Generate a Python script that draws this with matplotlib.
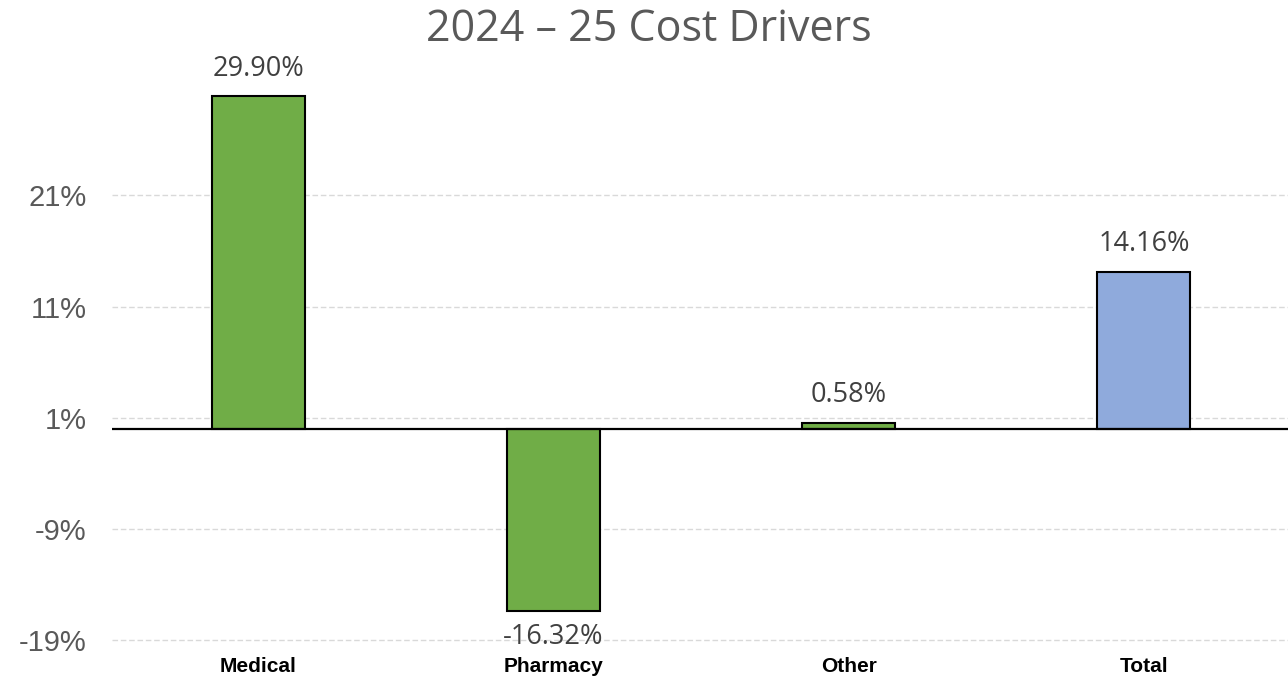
import matplotlib
matplotlib.use("Agg")
import matplotlib.pyplot as plt
from matplotlib.ticker import FixedLocator, FuncFormatter

categories = ["Medical", "Pharmacy", "Other", "Total"]
values = [29.90, -16.32, 0.58, 14.16]
bar_colors = ["#70AD47", "#70AD47", "#70AD47", "#8FAADC"]
yticks = [-19, -9, 1, 11, 21]
title = "2024 \u2013 25 Cost Drivers"

fig = plt.figure(figsize=(12.88, 6.78), dpi=100)
ax = fig.add_axes([112/1288, 1 - 650/678, 1 - 112/1288, (650 - 60)/678])

x = list(range(len(categories)))
ax.bar(x, values, width=0.315, color=bar_colors, edgecolor="black", linewidth=1.5, zorder=3)
ax.set_xlim(-0.496, 3.488)
ax.set_ylim(-19.87, 33.18)

ax.yaxis.set_major_locator(FixedLocator(yticks))
ax.yaxis.set_major_formatter(FuncFormatter(lambda v, p: f"{v:.0f}%"))
ax.grid(axis="y", color="#D9D9D9", linestyle=(0, (4, 2)), linewidth=1.0, zorder=0)
ax.axhline(0, color="black", linewidth=1.6, zorder=4)

for s in ax.spines.values():
    s.set_visible(False)
ax.tick_params(axis="both", length=0)
ax.tick_params(axis="y", pad=18.5)
for lab in ax.get_yticklabels():
    lab.set_fontfamily("Liberation Sans")
    lab.set_fontsize(21)
    lab.set_color("#595959")

ax.set_xticks(x)
ax.set_xticklabels(categories, fontfamily="Liberation Sans", fontweight="bold", fontsize=15, color="black")
ax.tick_params(axis="x", pad=5)

for xi, v in zip(x, values):
    off = 2.5 if v >= 0 else -2.4
    ax.text(xi, v + off, f"{v:.2f}%", ha="center", va="center",
            fontfamily="Open Sans", fontsize=19.5, color="#404040", zorder=5)

fig.text(649/1288, 1 - 30/678, title, ha="center", va="center",
         fontfamily="Open Sans", fontsize=31, color="#595959")

fig.savefig("out.png", dpi=100)
